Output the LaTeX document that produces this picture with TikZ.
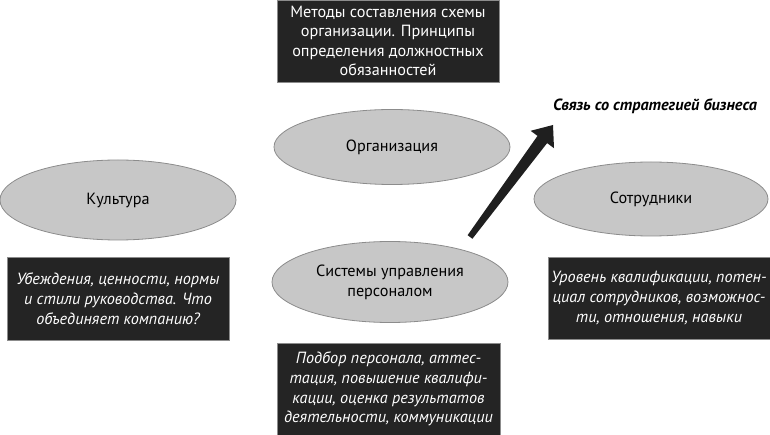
\documentclass[tikz,border=0pt]{standalone}
\usepackage{fontspec}
\setmainfont{PT Sans}
\usetikzlibrary{shapes.geometric}
\begin{document}
\begin{tikzpicture}[x=1pt,y=-1pt,
  ell/.style={ellipse, draw=black!45, line width=0.8pt, fill=black!22, inner sep=0pt,
     align=center, font=\fontsize{16.2}{20}\selectfont},
  dbox/.style={rectangle, fill=black!86, draw=black!45, line width=0.8pt, text=white, inner sep=0pt,
     align=center},
  up/.style={font=\fontsize{16.2}{19.5}\selectfont},
  it/.style={font=\fontsize{16.2}{19.8}\selectfont\itshape}]
\useasboundingbox (0,0) rectangle (770,435);
\node[dbox, up, minimum width=222pt, minimum height=82pt] (top) at (388,41)
  {Методы составления схемы\\организации. Принципы\\определения должностных\\обязанностей};
\node[ell, minimum width=236pt, minimum height=75pt] (org) at (392,147) {Организация};
\node[ell, minimum width=236pt, minimum height=80pt] (kult) at (118,200) {Культура};
\node[dbox, it, minimum width=222pt, minimum height=83pt] (lbox) at (118,298.5)
  {Убеждения, ценности, нормы\\и стили руководства. Что\\объединяет компанию?};
\node[ell, minimum width=236pt, minimum height=81pt] (sys) at (390,282) {Системы управления\\персоналом};
\node[dbox, it, minimum width=223pt, minimum height=92pt] (bbox) at (388.5,389)
  {Подбор персонала, аттес-\\тация, повышение квалифи-\\кации, оценка результатов\\деятельности, коммуникации};
\node[ell, minimum width=234pt, minimum height=74pt] (sotr) at (651,199) {Сотрудники};
\node[dbox, it, minimum width=222pt, minimum height=82pt] (rbox) at (659,298)
  {Уровень квалификации, потен-\\циал сотрудников, возможнос-\\ти, отношения, навыки};
\node[font=\fontsize{16.2}{19}\selectfont\bfseries\itshape, inner sep=0pt] (lab) at (655,106)
  {Связь со стратегией бизнеса};
% arrow
\coordinate (t1) at (472.4,238.8);
\coordinate (t2) at (467.6,235.2);
\coordinate (s1) at (547.1,143.1);
\coordinate (s2) at (537.5,135.9);
\coordinate (w1) at (554,148.2);
\coordinate (w2) at (530.6,130.8);
\coordinate (tip) at (553,125);
\fill[black!88] (t1) -- (s1) -- (w1) -- (tip) -- (w2) -- (s2) -- (t2) -- cycle;
\end{tikzpicture}
\end{document}
